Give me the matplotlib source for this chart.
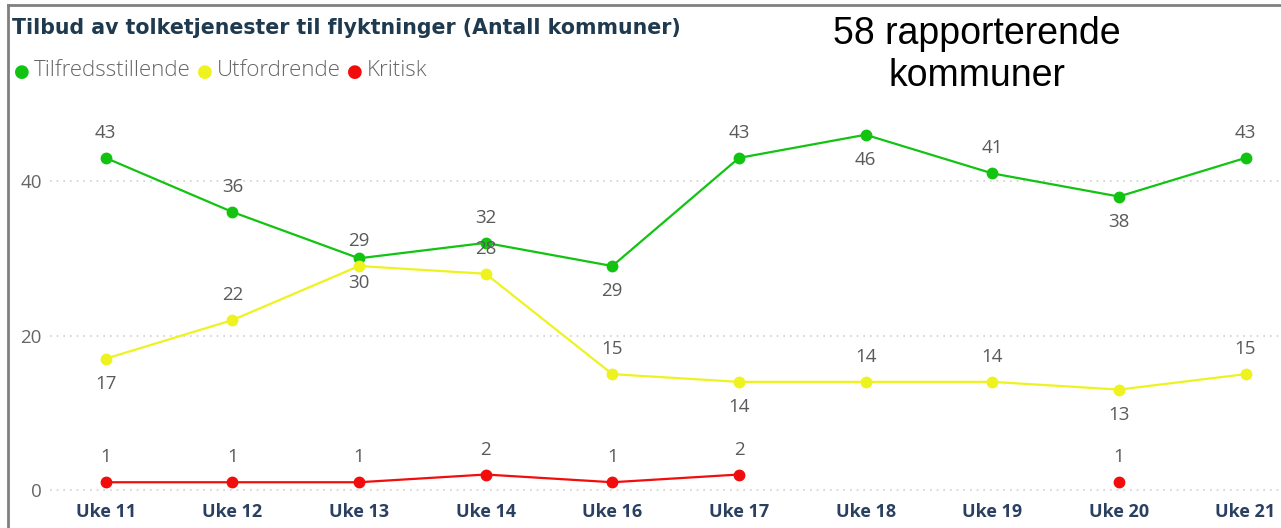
import matplotlib.pyplot as plt
import numpy as np
from matplotlib.lines import Line2D

weeks = ['Uke 11', 'Uke 12', 'Uke 13', 'Uke 14', 'Uke 16',
         'Uke 17', 'Uke 18', 'Uke 19', 'Uke 20', 'Uke 21']
tilfreds = [43, 36, 30, 32, 29, 43, 46, 41, 38, 43]
utfordrende = [17, 22, 29, 28, 15, 14, 14, 14, 13, 15]
kritisk = [1, 1, 1, 2, 1, 2, np.nan, np.nan, 1, np.nan]

# label side per point: 1 above, -1 below
tilfreds_side = [1, 1, -1, 1, -1, 1, -1, 1, -1, 1]
utford_side = [-1, 1, 1, 1, 1, -1, 1, 1, -1, 1]
kritisk_side = [1] * 10

series = [
    ('Tilfredsstillende', tilfreds, tilfreds_side, '#12c312'),
    ('Utfordrende', utfordrende, utford_side, '#eef21e'),
    ('Kritisk', kritisk, kritisk_side, '#f20d0d'),
]

plt.rcParams['font.family'] = ['Open Sans', 'DejaVu Sans']

fig = plt.figure(figsize=(12.81, 5.28), dpi=100)
W, H = 1281, 528
ax = fig.add_axes([50 / W, (528 - 500) / H, (1281 - 50) / W, 400 / H])

x = np.arange(len(weeks))
for name, vals, sides, col in series:
    v = np.array(vals, dtype=float)
    ax.plot(x, v, color=col, lw=1.6, marker='o', ms=7.5, zorder=3)
    for xi, yi, s in zip(x, v, sides):
        if np.isnan(yi):
            continue
        ax.annotate(f'{int(yi)}', (xi, yi), xytext=(0, 18 * s), textcoords='offset points',
                    ha='center', va='center', fontsize=13.5, color='#5a5a5a', zorder=4)

ax.set_xlim(-0.44, 9.28)
ax.set_ylim(-1.3, 50.5)
ax.set_yticks([0, 20, 40])
ax.set_xticks(x)
ax.set_xticklabels(weeks, fontsize=13, fontweight='bold', color='#2a4060')
ax.tick_params(axis='y', length=0, labelsize=13.5, labelcolor='#666666', pad=6)
ax.tick_params(axis='x', length=0, pad=2)
ax.grid(axis='y', color='#d0d0d0', linestyle=(0, (1, 3)), lw=1.2)
ax.set_axisbelow(True)
for sp in ax.spines.values():
    sp.set_visible(False)

# frame border on left and top
fig.add_artist(Line2D([8 / W, 8 / W], [0, 1 - 5 / H], color='#808080', lw=2))
fig.add_artist(Line2D([8 / W, 1], [1 - 5 / H, 1 - 5 / H], color='#808080', lw=2))

fig.text(12 / W, 1 - 28 / H, 'Tilbud av tolketjenester til flyktninger (Antall kommuner)',
         fontsize=14.8, fontweight='bold', color='#1f3a4f', va='center', ha='left',
         family='DejaVu Sans')

lx = 14
for name, vals, sides, col in series:
    fig.text(lx / W, 1 - 72 / H, '\u25cf', color=col, fontsize=13, va='center', ha='left',
             family='DejaVu Sans')
    t = fig.text((lx + 20) / W, 1 - 71 / H, name, color='#666666', fontsize=16,
                 va='center', ha='left', fontweight='light')
    fig.canvas.draw()
    bb = t.get_window_extent()
    lx = bb.x1 + 6

fig.text(977 / W, 1 - 55 / H, '58 rapporterende\nkommuner', fontsize=27, ha='center',
         va='center', family='Liberation Sans', color='black', linespacing=1.18)

fig.savefig('out.png', dpi=100)
